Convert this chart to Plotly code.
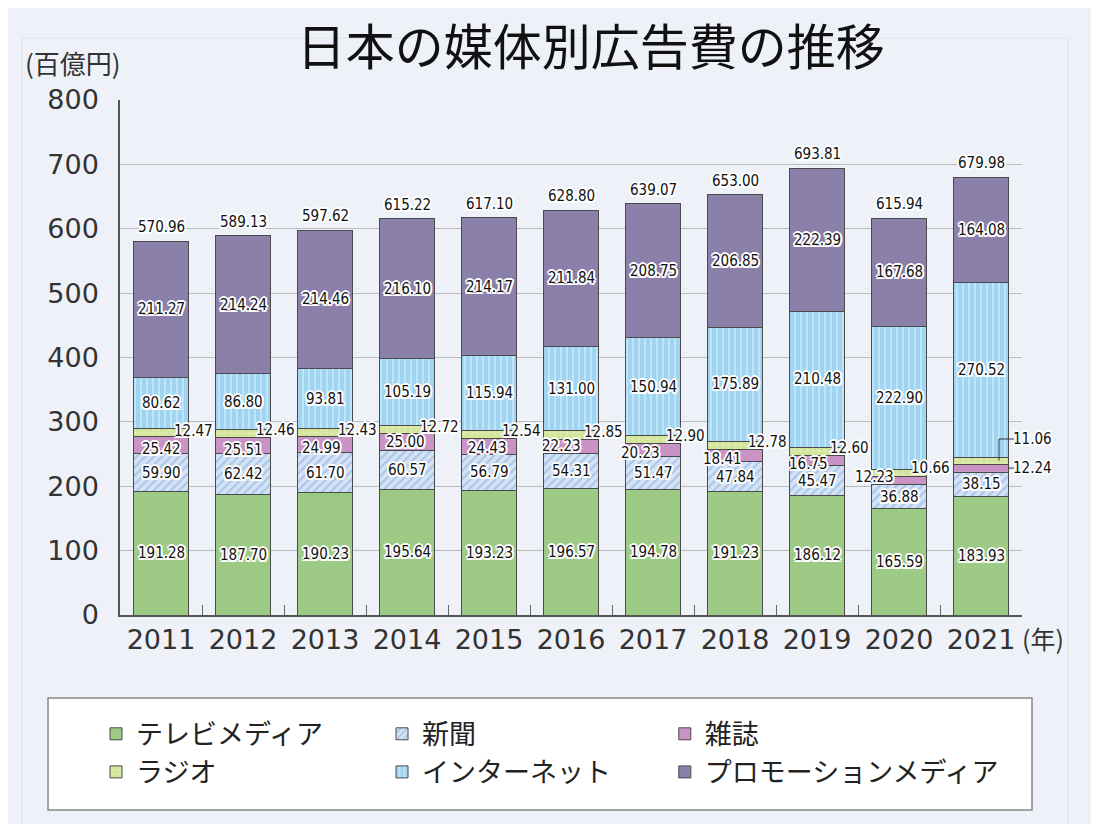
import plotly.graph_objs as go

# 日本の媒体別広告費 (百億円)
years = ['2011', '2012', '2013', '2014', '2015', '2016',
         '2017', '2018', '2019', '2020', '2021']
tv_media = [191.28, 187.70, 190.23, 195.64, 193.23, 196.57,
            194.78, 191.23, 186.12, 165.59, 183.93]
newspaper = [59.90, 62.42, 61.70, 60.57, 56.79, 54.31,
             51.47, 47.84, 45.47, 36.88, 38.15]
magazine = [25.42, 25.51, 24.99, 25.00, 24.43, 22.23,
            20.23, 18.41, 16.75, 12.23, 12.24]
radio = [12.47, 12.46, 12.43, 12.72, 12.54, 12.85,
         12.90, 12.78, 12.60, 10.66, 11.06]
internet = [80.62, 86.80, 93.81, 105.19, 115.94, 131.00,
            150.94, 175.89, 210.48, 222.90, 270.52]
promotion = [211.27, 214.24, 214.46, 216.10, 214.17, 211.84,
             208.75, 206.85, 222.39, 167.68, 164.08]
totals = [570.96, 589.13, 597.62, 615.22, 617.10, 628.80,
          639.07, 653.00, 693.81, 615.94, 679.98]

series_names = ['テレビメディア', '新聞', '雑誌', 'ラジオ', 'インターネット', 'プロモーションメディア']
series_values = [tv_media, newspaper, magazine, radio, internet, promotion]

BG = '#eef2f8'
NUM_FONT = 'Liberation Sans Narrow, DejaVu Sans Condensed, Arial Narrow, sans-serif'
JP_FONT = 'Noto Sans CJK JP, Noto Sans, sans-serif'
AX_FONT = 'DejaVu Sans, sans-serif'
HALO = ('-1.5px -1.5px 0 #fff, 1.5px -1.5px 0 #fff, -1.5px 1.5px 0 #fff, '
        '1.5px 1.5px 0 #fff, 0 2px 0 #fff, 0 -2px 0 #fff, 2px 0 0 #fff, -2px 0 0 #fff')

styles = [
    dict(color='#9dcb86'),
    dict(color='#cfdff2', pattern=dict(shape='/', fgcolor='#7ea6dc', bgcolor='#d4e3f4', size=6, solidity=0.35)),
    dict(color='#c994c5'),
    dict(color='#d9e8a2', pattern=dict(shape='+', fgcolor='#f2f7dc', bgcolor='#d3e59a', size=6, solidity=0.2)),
    dict(color='#a3d8f4', pattern=dict(shape='|', fgcolor='#eaf7fd', bgcolor='#9fd5f2', size=6, solidity=0.3)),
    dict(color='#8a80aa'),
]
# legend column each series goes into (3 columns x 2 rows)
legend_ids = ['legend', 'legend2', 'legend3', 'legend', 'legend2', 'legend3']


def _generate_traces():
    traces = []
    for name, values, style, lg in zip(series_names, series_values, styles, legend_ids):
        traces.append(go.Bar(
            x=years,
            y=values,
            name=name,
            legend=lg,
            marker=dict(line=dict(color='#4a4a4a', width=1), **style),
            hoverinfo='y',
        ))
    return traces


def _label(i, y, text, xshift=0, yshift=0, yanchor='middle'):
    # category index for x: year strings would be read as indices by annotations
    return dict(x=i, y=y, xref='x', yref='y', text=text, showarrow=False,
                xshift=xshift, yshift=yshift, yanchor=yanchor,
                font=dict(family=NUM_FONT, size=15, color='#111', shadow=HALO))


def _leader(x0, x1, y0, y1):
    return dict(type='line', xref='x', yref='y', x0=x0, x1=x1,
                y0=y0, y1=y1, line=dict(color='#333', width=1))


def _generate_labels():
    annotations = []
    shapes = []
    # label offsets for the thin magazine / radio segments
    mag_dx = [0, 0, -4, -2, -2, -10, -13, -13, -9, -25, 51]
    mag_dy = [-4, -4, -3, 0, -2, 0, -3, -4, -3, 4, 0]
    radio_dx = [32, 32, 32, 32, 32, 32, 32, 32, 32, 31, 51]
    radio_dy = [2, 4, 3, 3, 3, 3, 3, 3, 3, 5, 0]
    last = len(years) - 1
    for i, yr in enumerate(years):
        base = 0.0
        for k, values in enumerate(series_values):
            v = values[i]
            mid = base + v / 2
            txt = f'{v:.2f}'
            if k == 2:
                annotations.append(_label(i, mid, txt, mag_dx[i], mag_dy[i]))
                if i == last:
                    shapes.append(_leader(i + 0.34, i + 0.40, mid, mid))
            elif k == 3:
                if i == last:
                    ly = base + v + 28
                    annotations.append(_label(i, ly, txt, radio_dx[i], 0))
                    shapes.append(_leader(i + 0.22, i + 0.22, mid, ly))
                    shapes.append(_leader(i + 0.22, i + 0.40, ly, ly))
                else:
                    annotations.append(_label(i, mid, txt, radio_dx[i], radio_dy[i]))
            else:
                annotations.append(_label(i, mid, txt))
            base += v
        annotations.append(_label(i, base, f'{totals[i]:.2f}', 0, 3, 'bottom'))
    return annotations, shapes


def _legend(x):
    return dict(orientation='v', x=x, y=-0.184, xanchor='left', yanchor='top',
                bgcolor='rgba(0,0,0,0)', borderwidth=0, traceorder='normal',
                tracegroupgap=0, itemwidth=30,
                font=dict(family=JP_FONT, size=27, color='#222'))


def _generate_plot():
    traces = _generate_traces()
    annotations, shapes = _generate_labels()

    annotations += [
        dict(x=-0.107, y=1.072, xref='paper', yref='paper', xanchor='left', yanchor='middle',
             text='(百億円)', showarrow=False, font=dict(family=JP_FONT, size=26, color='#333')),
        dict(x=0.998, y=-0.045, xref='paper', yref='paper', xanchor='left', yanchor='middle',
             text='(年)', showarrow=False, font=dict(family=JP_FONT, size=25, color='#333')),
    ]
    # page frame and legend box
    shapes.append(dict(type='rect', xref='paper', yref='paper', layer='below',
                       x0=-0.1086, x1=1.051, y0=-0.43, y1=1.12,
                       line=dict(color='#dde3ec', width=1)))
    shapes.append(dict(type='rect', xref='paper', yref='paper',
                       x0=-0.0798, x1=1.0111, y0=-0.3786, y1=-0.1612,
                       fillcolor='white', line=dict(color='#888', width=1.5)))

    layout = go.Layout(
        width=1091, height=816,
        title=dict(text='日本の媒体別広告費の推移', x=0.522, xref='paper', y=0.951,
                   xanchor='center', yanchor='middle',
                   font=dict(family=JP_FONT, size=49, color='#111')),
        barmode='stack',
        bargap=0.32,
        paper_bgcolor=BG,
        plot_bgcolor=BG,
        margin=dict(l=112, r=77, t=92, b=209),
        xaxis=dict(type='category', categoryorder='array', categoryarray=years,
                   range=[-0.5, len(years) - 0.5], tickangle=0,
                   showline=True, linecolor='#555', linewidth=1.5,
                   ticks='inside', tickson='boundaries', ticklen=10, tickcolor='#666',
                   tickfont=dict(family=AX_FONT, size=27, color='#333'),
                   showgrid=False),
        yaxis=dict(range=[0, 800], tickvals=list(range(0, 801, 100)),
                   showline=True, linecolor='#555', linewidth=1.5,
                   gridcolor='#bcbcbc', gridwidth=1, zeroline=False,
                   ticklabelstandoff=14,
                   tickfont=dict(family=AX_FONT, size=27, color='#333')),
        legend=_legend(-0.0266),
        legend2=_legend(0.2905),
        legend3=_legend(0.604),
        annotations=annotations,
        shapes=shapes,
        hovermode='closest',
    )

    fig = go.Figure(data=traces, layout=layout)
    fig.write_html('out.html')


_generate_plot()
